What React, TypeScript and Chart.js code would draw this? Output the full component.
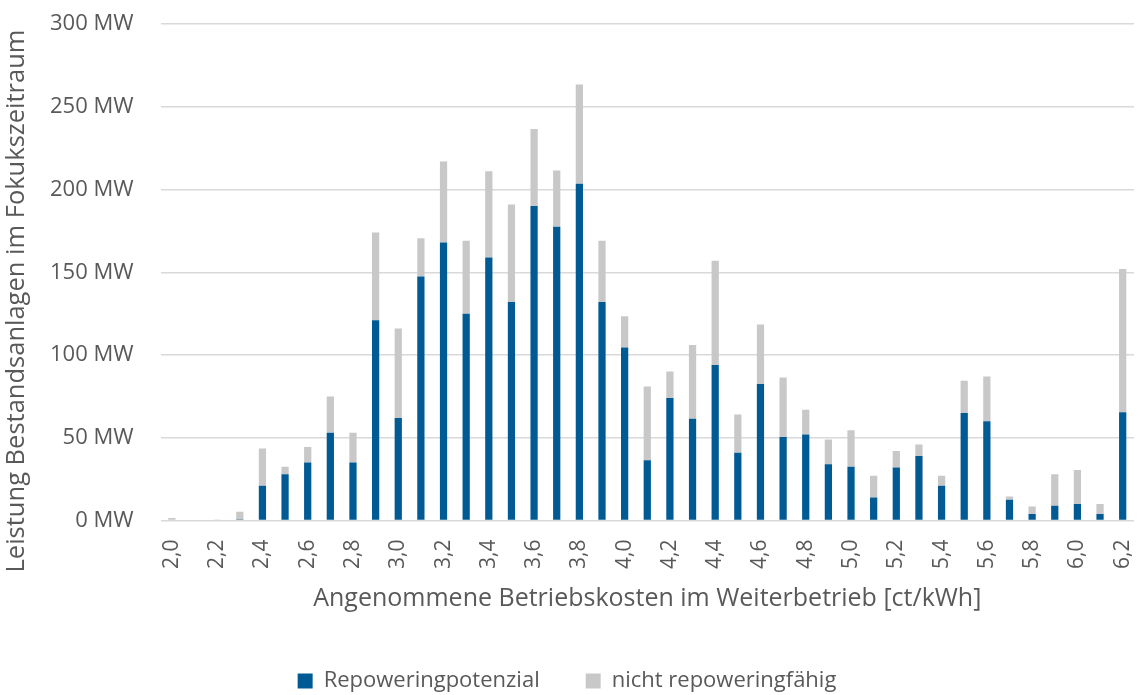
import React, { useEffect, useRef } from "react";
import { Chart, registerables } from "chart.js";

Chart.register(...registerables);

const categories: string[] = [
  "2,0", "2,1", "2,2", "2,3", "2,4", "2,5", "2,6", "2,7", "2,8", "2,9",
  "3,0", "3,1", "3,2", "3,3", "3,4", "3,5", "3,6", "3,7", "3,8", "3,9",
  "4,0", "4,1", "4,2", "4,3", "4,4", "4,5", "4,6", "4,7", "4,8", "4,9",
  "5,0", "5,1", "5,2", "5,3", "5,4", "5,5", "5,6", "5,7", "5,8", "5,9",
  "6,0", "6,1", "6,2",
];

const repoweringpotenzial: number[] = [
  0, 0, 0, 0.3, 21, 28, 35, 53, 35, 121,
  62, 147.5, 168, 125, 159, 132, 190, 177.5, 203.5, 132,
  104.5, 36.5, 74, 61.5, 94, 41, 82.5, 50.5, 52, 34,
  32.5, 14, 32, 39, 21, 65, 60, 12.5, 4, 9,
  10, 4, 65.5,
];

const nichtRepoweringfaehig: number[] = [
  1.5, 0, 0.4, 5, 22.5, 4.5, 9.5, 22, 18, 53,
  54, 23, 49, 44, 52, 59, 46.5, 34, 60, 37,
  19, 44.5, 16, 44.5, 63, 23, 36, 36, 15, 15,
  22, 13, 10, 7, 6, 19.5, 27, 2, 4.5, 19,
  20.5, 6, 86.5,
];

const yTicks: number[] = [0, 50, 100, 150, 200, 250, 300];

const Y_TITLE = "Leistung Bestandsanlagen im Fokukszeitraum";
const X_TITLE = "Angenommene Betriebskosten im Weiterbetrieb [ct/kWh]";

const TEXT = "#595959";
const FONT = "'Open Sans', 'Noto Sans', sans-serif";

const yTitlePlugin = {
  id: "yTitleCustom",
  afterDraw(chart: any) {
    const c = chart.ctx;
    c.save();
    c.translate(17, 301);
    c.rotate(-Math.PI / 2);
    c.font = `25.5px ${FONT}`;
    c.fillStyle = TEXT;
    c.textAlign = "center";
    c.textBaseline = "middle";
    c.fillText(Y_TITLE, 0, 0);
    c.restore();
  },
};

export default function App() {
  const ref = useRef<HTMLCanvasElement | null>(null);

  useEffect(() => {
    document.body.style.margin = "0";
    const ctx = ref.current;
    if (!ctx) return;
    const chart = new Chart(ctx, {
      type: "bar",
      data: {
        labels: categories,
        datasets: [
          {
            label: "Repoweringpotenzial",
            data: repoweringpotenzial,
            backgroundColor: "#005A94",
            barPercentage: 0.32,
            categoryPercentage: 1,
          },
          {
            label: "nicht repoweringfähig",
            data: nichtRepoweringfaehig,
            backgroundColor: "#C8C8C8",
            barPercentage: 0.32,
            categoryPercentage: 1,
          },
        ],
      },
      plugins: [yTitlePlugin],
      options: {
        animation: false,
        responsive: false,
        maintainAspectRatio: false,
        layout: { padding: { top: 24, right: 10, left: 0, bottom: -7 } },
        plugins: {
          legend: {
            position: "bottom",
            labels: {
              color: TEXT,
              font: { family: FONT, size: 22 },
              boxWidth: 15,
              boxHeight: 15,
              padding: 46,
            },
          },
          tooltip: { enabled: false },
        },
        scales: {
          x: {
            stacked: true,
            grid: {
              display: true,
              drawOnChartArea: false,
              drawTicks: true,
              tickLength: 19,
              tickColor: "rgba(0,0,0,0)",
            },
            border: { display: false },
            afterFit: (s: any) => {
              s.paddingLeft = 0;
              s.paddingRight = 0;
            },
            ticks: {
              color: TEXT,
              font: { family: FONT, size: 21 },
              autoSkip: false,
              minRotation: 90,
              maxRotation: 90,
              padding: 0,
              callback: (_v: any, i: number) => (i % 2 === 0 ? categories[i] : ""),
            },
            title: {
              display: true,
              text: X_TITLE,
              color: TEXT,
              font: { family: FONT, size: 25 },
              padding: { top: 15, bottom: 10 },
            },
          },
          y: {
            stacked: true,
            min: 0,
            max: 300,
            afterBuildTicks: (axis: any) => {
              axis.ticks = yTicks.map((v) => ({ value: v }));
            },
            afterFit: (s: any) => {
              s.paddingTop = 0;
              s.paddingBottom = 0;
              s.width += 50;
            },
            grid: {
              color: "#D9D9D9",
              lineWidth: 1.5,
              drawTicks: true,
              tickLength: 27,
              tickColor: "rgba(0,0,0,0)",
            },
            border: { display: false },
            ticks: {
              color: TEXT,
              font: { family: FONT, size: 22 },
              padding: 0,
              callback: (v: any) => `${v} MW`,
            },
            title: { display: false },
          },
        },
      },
    });
    return () => chart.destroy();
  }, []);

  return (
    <div style={{ position: "absolute", left: 0, top: 0, width: 1144, height: 695 }}>
      <canvas ref={ref} width={1144} height={695} style={{ width: 1144, height: 695 }} />
    </div>
  );
}
